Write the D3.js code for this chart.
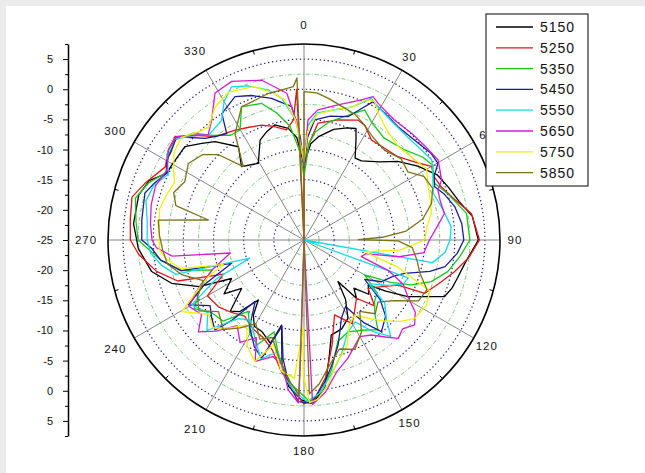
<!DOCTYPE html>
<html><head><meta charset="utf-8">
<script src="https://cdn.jsdelivr.net/npm/d3@7"></script>
<style>
html,body{margin:0;padding:0;background:#ebebeb;}
svg{display:block;}
text{font-family:"Liberation Sans",Arial,sans-serif;fill:#111;}
</style></head><body>
<svg id="chart" width="645" height="473"></svg>
<script>
// ---- data ----
const seriesNames = ["5150","5250","5350","5450","5550","5650","5750","5850"];
const seriesColors = ["#000000","#e01818","#18c818","#1c1c96","#10dce6","#d21ed2","#f2f000","#7c7218"];
const angleTicks = [0,30,60,90,120,150,180,210,240,270,300,330];
const radialTicksTop = [5,0,-5,-10,-15,-20,-25];
const radialTicksBottom = [-20,-15,-10,-5,0,5];
const radialMinor = [7.5,2.5,-2.5,-7.5,-12.5,-17.5,-22.5];
const gridMajor = [-20,-15,-10,-5,0,5];
const gridMinor = [-22.5,-17.5,-12.5,-7.5,-2.5,2.5];
const radialDomain = [-25,7.5];

// [angle (deg), gain (dB)]
const s5150 = [[0,-12.5],[4,-9],[8,-7.7],[15,-6],[21,-5.1],[25,-4.6],[27,-6],[32,-9],[36,-8.8],[44,-7],[50,-4.7],[57,-2.5],[64,-0.4],[70,0.5],[76,1.5],[82,3.2],[90,3.9],[98,2],[104,1.2],[108,0.8],[112,0.1],[118.6,-5.4],[122,-9],[125,-12],[130,-11],[134,-13.5],[138,-12],[140.8,-16.1],[145,-13],[150.7,-10.1],[157,-9],[164,-8.6],[168,-5],[172,-0.2],[177,2.1],[181,1.5],[186,-0.6],[190,-4],[194.7,-10.4],[198,-7],[204.8,-8.3],[210,-8.5],[214,-10],[217.3,-12.5],[222,-9],[226,-8],[232.2,-11.9],[236,-9],[242,-11.4],[246,-6],[251.9,-1.9],[258.3,0.8],[267,2.5],[275.5,3.4],[285.3,3.4],[291,2.5],[295.9,0.3],[299.5,0.2],[308.1,0.1],[313.4,-1.7],[317.9,-3],[324.9,-6.1],[319.6,-9],[329.2,-10.2],[336.3,-6.9],[341,-6],[345.8,-5.3],[352,-6.3],[356,-8],[360,-12.5]];
const s5250 = [[0,-13],[3,-9],[6.8,-5.5],[15.8,-4.3],[24.2,-3.2],[28,-3.5],[34,-5],[40,-4.8],[48.4,-4.2],[55,-2.5],[60,-0.6],[64,-1],[68.8,-0.6],[75.1,0.9],[81,3.1],[90,4.1],[96,2.5],[101.9,0.5],[106.9,-1.2],[113.8,-3.1],[115.6,-7.7],[121,-10],[127,-11.7],[133,-9],[138,-12],[144.7,-10.5],[150,-9],[157.8,-11.6],[165,-7],[171,-2],[176,1.3],[180,2.2],[184,0],[190,-3],[196,-6],[203,-7.5],[210,-8],[218,-9],[225,-8],[232,-7],[240,-6.5],[247,-10.5],[252,-3],[258,0],[265,2.5],[270,3.8],[276.6,4],[284,4.4],[289.6,3],[297.8,1],[303.6,2],[308.7,2.4],[314,0],[319.3,-2.4],[328,-3.5],[334,-4.2],[339.8,-4.7],[345,-5.5],[351,-6.5],[355,-5],[357.2,0],[358,-25],[360,-13]];
const s5350 = [[0,-14.5],[3,-9],[6,-7],[12,-5],[18,-3.5],[25,-1.2],[30,-2.5],[38,-3.5],[48.2,-2.6],[55,-1],[60,-0.3],[66,-1.5],[72,0],[80.7,2.3],[90,2.5],[96,1],[102.4,-0.6],[108.1,-2.8],[112.7,-5.7],[116,-9],[120,-13.4],[126,-10],[131,-9.5],[136,-8.1],[140.6,-5.7],[146,-7],[154.4,-8.1],[161.5,-7.3],[168,-3],[173.5,0.3],[178,1.8],[185,-1],[192,-5],[198,-9],[204,-6],[210,-7],[218,-10],[225,-6],[232,-5.5],[238,-3.5],[245,-6],[252,-9],[256,-4],[262,-1],[270,2.5],[276,3],[284,3.8],[290,2.5],[296,0.5],[302,1.5],[308,2],[314,0.5],[319,-2],[325,-3.8],[329.8,-3.9],[334.9,-0.6],[342.8,-1.3],[348,-3.5],[353,-6],[357,-10],[360,-14.5]];
const s5450 = [[0,-13.1],[2,-8],[5.1,-5],[12,-4],[19.6,-3.3],[24,-1],[26.5,0.6],[32,0],[39.7,-0.6],[48,-0.3],[55.8,0.5],[60.2,0.6],[64,-1],[67.8,-1.6],[72,-0.5],[77.5,0.6],[84,1.3],[90,1.5],[95,0.5],[100.7,-1.2],[104,-3.5],[108.3,-7.4],[112,-9],[118.3,-10.4],[123,-13],[128,-9],[133,-6.5],[139.8,-5.1],[144,-8],[148,-12],[154.5,-10.6],[158,-9],[162,-6.7],[167,-4],[171.7,-1.2],[177.4,2.1],[182,1.8],[186,-1],[190,-5],[194.4,-10.2],[199.7,-4.2],[205,-5.5],[212,-8],[218.5,-12],[222,-7],[224.7,-4],[230,-5],[235,-6],[240.7,-3],[246,-7],[252.1,-12.4],[256,-4],[262,-1],[266.9,0.3],[270,1.9],[277,2.1],[286.4,2.5],[291,1.5],[295.9,0.3],[300,1.3],[304,1.5],[309,2.2],[315.8,-1.5],[320,-2.5],[324,-3.2],[327,0],[334.3,1.4],[340,0.5],[347.1,-0.9],[354.7,-2.8],[358,-8],[360,-13.1]];
const s5550 = [[0,-12],[2,-6],[6,-3.8],[14,-2.7],[20,-1.5],[25.4,1],[29,0.3],[36,-0.5],[45,-0.8],[52,-0.5],[58,0],[64,-1.2],[70,-2.2],[77,-1.5],[84.8,-0.5],[90,-0.8],[95,-1.5],[100,-3.4],[101,-25],[110,-6.6],[114,-7],[118,-9],[124,-12],[128,-8],[134,-6],[138,-3.5],[143,-6],[148,-9],[155,-8],[162,-5],[168,-2.5],[174,0.5],[179,1.8],[184,0],[188,-2],[193,-6],[200,-4],[207,-7],[214,-9],[220,-8],[227,-3],[233,-5],[240,-3.5],[246,-9],[251.6,-15.5],[255,-3],[260,-1],[265,0.5],[270,1],[277,1.2],[284,2],[290,1.5],[296,0],[302,1.8],[308,2.2],[314,0],[318,-1.5],[325.5,-0.9],[330,1.5],[334.7,3.1],[340,2.2],[346.6,0.6],[351,-1.2],[356,-5],[360,-12]];
const s5650 = [[0,-12.8],[0.5,-11.2],[1.9,-5.1],[6.1,-3.3],[14.1,-1.9],[22.3,0.1],[25.7,1.4],[28.4,0.8],[37,-0.1],[45.2,0.1],[52,0.4],[59.2,0.9],[66.4,-0.1],[69.5,-1.3],[74,-1.5],[79.3,-1.3],[85,-3],[90,-4.2],[96,-5],[100,-9],[102.5,-14.5],[106.2,-15.1],[110,-10],[114,-7],[118.6,-5.4],[123,-3],[127.5,-1.9],[132,-3],[136.2,-2.4],[140,-4],[144.7,-5.7],[150,-6.5],[159.6,-4.1],[166,-2.5],[172,0.5],[177,2.3],[180,-25],[181.6,-7.6],[182,2],[186,0],[190,-4],[195,-5],[201.9,-3.3],[206,-7],[212,-5],[218,-7],[224,-4],[229,-1.8],[234,-4],[240,-3],[246,-6],[252,-9],[260,-12.6],[263,-3],[267,-0.5],[270,0.2],[276,0.6],[283,1],[290,1.2],[297,0.5],[303.6,2],[309.1,2.2],[314,0],[317.7,-1.4],[322.4,0.1],[328.8,3.5],[335.5,3.9],[345.2,2.4],[353.3,-0.5],[357,-6],[360,-12.8]];
const s5750 = [[0,-12],[2,-7],[6,-4],[12,-3],[20,-1.5],[24,0.5],[27,0.8],[30,-0.5],[36,-2],[45,-3],[52,-2.5],[60,-1.5],[66,-2.5],[72,-3],[78,-3.4],[84,-4.5],[90,-5],[96,-9],[101,-14.8],[106,-9],[112,-2.5],[118,-2],[125.3,-2.5],[130,-4],[135,-6],[140,-8],[146,-10],[152,-9],[158,-6],[165,-4],[170,-1],[175,1.5],[178,2],[180.3,-2.6],[180.6,-10.4],[184,-2],[190,-3],[196,-7],[202,-3.3],[208,-5],[214,-8],[220,-6],[226,-4],[232,-5],[239.6,-1.5],[244,-5],[249,-8],[253,-11],[257,-4],[262,-2],[266,-1],[270,-1],[276,-0.9],[282,-0.5],[288,-1],[294,-1.5],[298,-0.5],[304,1],[310,1.5],[316,0],[320,-0.5],[326,1.5],[333,2.5],[341.7,1.8],[348,0],[352,-1.5],[356,-5],[360,-12]];
const s5850 = [[0,-0.4],[5,-0.5],[10,-1.2],[16,-2],[22,-2.5],[28,-3.5],[34,-4.5],[42,-5],[50,-4],[56.7,-4.4],[62,-2.5],[68,-2],[74,-3],[80,-5],[85,-8],[88,-12],[89.5,-16],[90.5,-9.4],[94,-7],[100,-6],[106,-5],[112,-3],[118,-3.5],[124,-7],[130,-9],[136,-8],[142,-10],[148,-7],[155,-5],[162,-6],[168,-4],[174,-1],[178,0.5],[181.5,-25],[181.8,0.7],[186,-1.5],[192,-5],[198,-8],[204,-7],[210,-9],[216,-7],[222,-5],[230,-6.5],[236,-4],[242,-5],[248,-7],[254,-4],[260,-2],[266,-1.5],[272,-1],[277.8,-0.6],[281.8,-8.8],[285,-3],[290,-2],[296,-3],[303.5,-2],[310,-3],[315,-5],[320.4,-9.2],[327,-4],[334.9,-0.6],[340,-0.5],[346,0],[352,0.2],[356,0.5],[357.5,1.9],[358,-25],[360,-0.4]];
const seriesData = [s5150,s5250,s5350,s5450,s5550,s5650,s5750,s5850];

// ---- drawing ----
const W = 645, H = 473;
const cx = 304, cy = 240, R = 196;
const svg = d3.select("#chart");
svg.append("rect").attr("x",6).attr("y",6).attr("width",W-6).attr("height",H-6).attr("fill","#ffffff");

const r = d3.scaleLinear().domain(radialDomain).range([0,R]).clamp(true);
const rad = d => d*Math.PI/180;
const g = svg.append("g").attr("transform",`translate(${cx},${cy})`);

// grid circles
g.selectAll("circle.minor").data(gridMinor).join("circle")
  .attr("r",d=>r(d)).attr("fill","none").attr("stroke","#7cc87c")
  .attr("stroke-width",1).attr("stroke-dasharray","4,2,1,2");
g.selectAll("circle.major").data(gridMajor).join("circle")
  .attr("r",d=>r(d)).attr("fill","none").attr("stroke","#1a1a80")
  .attr("stroke-width",1.2).attr("stroke-dasharray","1.3,2.7");

// spokes
g.selectAll("line.spoke").data(angleTicks).join("line")
  .attr("x1",0).attr("y1",0)
  .attr("x2",d=>r(radialDomain[1])*Math.sin(rad(d)))
  .attr("y2",d=>-r(radialDomain[1])*Math.cos(rad(d)))
  .attr("stroke","#858585").attr("stroke-width",1);

// series
g.append("clipPath").attr("id","clip").append("circle").attr("r",R);
const line = d3.lineRadial().angle(d=>rad(d[0])).radius(d=>r(d[1]));
const lines = g.append("g").attr("clip-path","url(#clip)");
seriesData.forEach((d,i)=>{
  lines.append("path").attr("d",line(d)).attr("fill","none")
    .attr("stroke",seriesColors[i]).attr("stroke-width",1.3).attr("stroke-linejoin","round");
});

// outer circle and minor ticks
g.append("circle").attr("r",R).attr("fill","none").attr("stroke","#000").attr("stroke-width",1.6);
const minorAngles = d3.range(15,360,30);
g.selectAll("line.otick").data(minorAngles).join("line")
  .attr("x1",d=>R*Math.sin(rad(d))).attr("y1",d=>-R*Math.cos(rad(d)))
  .attr("x2",d=>(R-4)*Math.sin(rad(d))).attr("y2",d=>-(R-4)*Math.cos(rad(d)))
  .attr("stroke","#000").attr("stroke-width",1);

// angle labels
g.selectAll("text.ang").data(angleTicks).join("text")
  .attr("x",d=>{const rl = d===0?215:(d<=180?211:218); return rl*Math.sin(rad(d));})
  .attr("y",d=>{const rl = d===0?215:(d<=180?211:218); return -rl*Math.cos(rad(d));})
  .attr("text-anchor","middle").attr("dominant-baseline","central")
  .attr("font-size","11.5px").attr("letter-spacing","1px")
  .text(d=>d);

// left radial axis
const yTop = d3.scaleLinear().domain(radialDomain).range([cy, cy-R]);
const yBot = d3.scaleLinear().domain(radialDomain).range([cy, cy+R]);
function drawAxis(scale, ticks){
  const ax = svg.append("g").attr("transform","translate(68,0)")
    .call(d3.axisLeft(scale).tickValues(ticks).tickSize(5).tickSizeOuter(0).tickPadding(10).tickFormat(d=>String(d)));
  ax.select(".domain").attr("stroke","#000").attr("stroke-width",1.5);
  ax.selectAll("text").attr("font-family","'Liberation Sans',Arial,sans-serif").attr("font-size","11px").attr("fill","#111");
  const mx = svg.append("g").attr("transform","translate(68,0)")
    .call(d3.axisLeft(scale).tickValues(radialMinor).tickSize(3).tickSizeOuter(0).tickFormat(""));
  mx.select(".domain").remove();
}
drawAxis(yTop, radialTicksTop);
drawAxis(yBot, radialTicksBottom);

// legend
const lg = svg.append("g").attr("transform","translate(486,14)");
lg.append("rect").attr("width",102).attr("height",172).attr("fill","#fff").attr("stroke","#000").attr("stroke-width",1);
seriesNames.forEach((n,i)=>{
  const y = 13 + i*20.8;
  lg.append("line").attr("x1",10).attr("x2",47).attr("y1",y).attr("y2",y)
    .attr("stroke",seriesColors[i]).attr("stroke-width",1.3);
  lg.append("text").attr("x",54).attr("y",y+5).attr("font-size","14px").attr("letter-spacing","1px").text(n);
});
</script>
</body></html>
